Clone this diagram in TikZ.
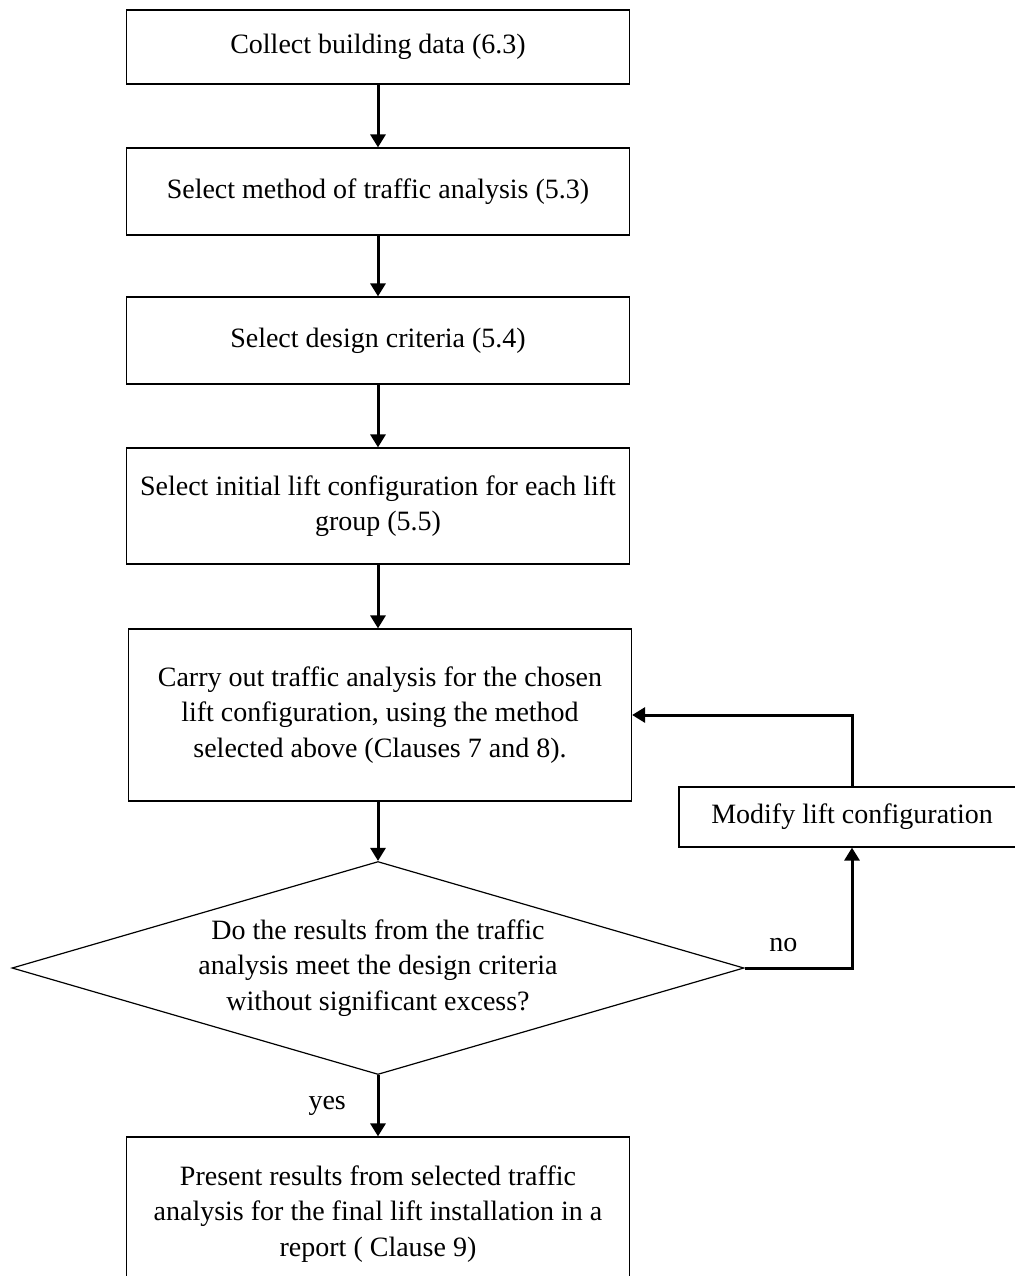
\documentclass[tikz,border=0pt]{standalone}
\usepackage{fontspec}
\setmainfont{Liberation Serif}
\usepackage{tikz}
\usetikzlibrary{shapes.geometric,arrows.meta}
\tikzstyle{block} = [rectangle, draw, line width=0.6pt, align=center, minimum width=251.5pt, inner sep=0pt]
\tikzstyle{decision} = [diamond, draw, line width=0.6pt, align=center, aspect=3.44, minimum width=366pt, minimum height=106.5pt, inner sep=0pt]
\tikzstyle{flow} = [line width=1.5pt, -{Triangle[length=6.5pt,width=7.5pt]}]

\begin{document}
\begin{tikzpicture}[x=0.5pt,y=-0.5pt,font=\fontsize{14}{17.75}\selectfont]
  \useasboundingbox (0,0) rectangle (1015,1276);
  \clip (0,0) rectangle (1015,1276);
  \draw (378,47)node[block, minimum height=37pt](0){Collect building data (6.3)};
  \draw (378,191.5)node[block, minimum height=43.5pt](1){Select method of traffic analysis (5.3)};
  \draw (378,340.5)node[block, minimum height=43.5pt](2){Select design criteria (5.4)};
  \draw (378,506)node[block, minimum height=58pt](3){Select initial lift configuration for each lift\\group (5.5)};
  \draw (380,715)node[block, minimum height=86pt](4){Carry out traffic analysis for the chosen\\lift configuration, using the method\\selected above (Clauses 7 and 8).};
  \draw (378,968)node[decision](5){Do the results from the traffic\\analysis meet the design criteria\\without significant excess?};
  \draw (378,1214)node[block, minimum height=77pt](6){Present results from selected traffic\\analysis for the final lift installation in a\\report ( Clause 9)};
  \draw (852,817)node[block, minimum width=173pt, minimum height=30pt](7){Modify lift configuration};
  \path[flow] (0) edge (1);
  \path[flow] (1) edge (2);
  \path[flow] (2) edge (3);
  \path[flow] (3) edge (4.north -| 3.south);
  \path[flow] (4.south -| 3.south) edge (5);
  \path[flow] (5) edge node[left=12pt]{yes} (6);
  \draw[flow] (5.east) -| node[pos=0.18, above=4pt]{no} (7.south);
  \draw[flow] (7.north) |- (4.east);
\end{tikzpicture}
\end{document}
